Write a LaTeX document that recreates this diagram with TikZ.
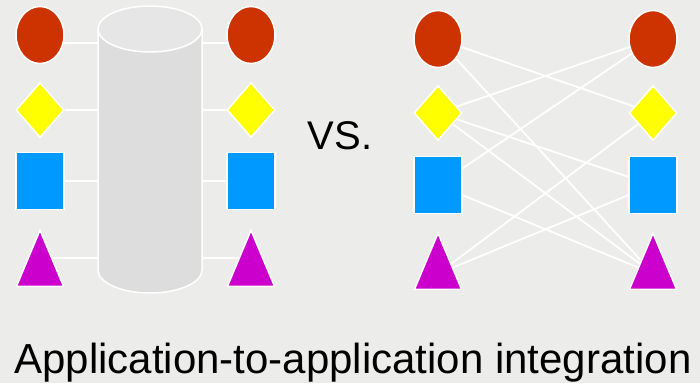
\documentclass[tikz,border=0pt]{standalone}
\usepackage{fontspec}
\setmainfont{Liberation Sans}
\usetikzlibrary{shapes.geometric}

\definecolor{paper}{RGB}{236,236,234}
\definecolor{appred}{RGB}{204,51,0}
\definecolor{appyellow}{RGB}{255,255,0}
\definecolor{appblue}{RGB}{0,153,255}
\definecolor{appmagenta}{RGB}{204,0,204}
\definecolor{drumbody}{RGB}{221,221,221}
\definecolor{drumtop}{RGB}{230,230,230}

\tikzset{
  app/.style={draw=white, line width=1.5pt, inner sep=0pt,
    minimum width=48pt, minimum height=57pt},
  appA/.style={app, ellipse, fill=appred},
  appB/.style={app, diamond, fill=appyellow, minimum height=55pt},
  appC/.style={app, rectangle, fill=appblue},
  appD/.style={app, isosceles triangle, isosceles triangle stretches,
    shape border rotate=90, fill=appmagenta, minimum width=47pt,
    minimum height=56pt, anchor=lower side},
  link/.style={white, line width=1.8pt},
}

\begin{document}
\begin{tikzpicture}[x=1pt, y=-1pt]
  \fill[paper] (0,0) rectangle (700,383);
  \useasboundingbox (0,0) rectangle (700,383);

  % hub: both columns talk to one store
  \node[inner sep=0pt, minimum width=104pt, minimum height=287pt]
    (cyl) at (150,149.5) {};
  \filldraw[draw=white, line width=1.5pt, fill=drumbody]
    (98,29) -- (98,270)
    arc[start angle=180, end angle=0, x radius=52, y radius=23]
    -- (202,29) -- cycle;
  \filldraw[draw=white, line width=1.5pt, fill=drumtop]
    (150,29) ellipse[x radius=52, y radius=23];

  \foreach \s/\y in {A/35, B/110, C/181, D/287}{
    \node[app\s] (l\s) at (40,\y) {};
    \node[app\s] (r\s) at (251,\y) {};
  }
  \foreach \s/\a in {A/-18, B/east, C/east, D/right side}{
    \draw[link] (l\s.\a) -- (l\s.\a -| cyl.west);
  }
  \foreach \s/\a in {A/198, B/west, C/west, D/left side}{
    \draw[link] (r\s.\a) -- (r\s.\a -| cyl.east);
  }

  \node[font=\fontsize{40}{48}\selectfont, anchor=base, inner sep=0pt]
    (vs) at (340,149) {VS.};

  % point to point: every pair wired directly
  \foreach \s/\y in {A/39, B/113, C/185, D/290}{
    \node[app\s] (p\s) at (438,\y) {};
    \node[app\s] (q\s) at (653,\y) {};
  }
  \foreach \a/\b in {A/B, A/D, B/A, B/C, B/D, C/A, C/D, D/B, D/C}{
    \draw[link] (p\a) -- (q\b);
  }

  \node[font=\fontsize{42}{50}\selectfont, anchor=base, inner sep=0pt]
    (caption) at (353,373) {Application-to-application integration};
\end{tikzpicture}
\end{document}
